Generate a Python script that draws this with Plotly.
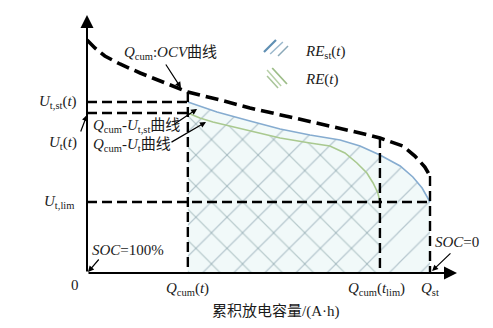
import numpy as np
import plotly.graph_objects as go

# ---- data (schematic units: Q normalised to Q_st = 1, voltage arbitrary) ----
ocv_q = [0, 0.023, 0.052, 0.096, 0.155, 0.213, 0.271, 0.294, 0.388, 0.475, 0.592,
         0.738, 0.796, 0.854, 0.921, 0.956, 0.985, 1.0]
ocv_u = [2.33, 2.25, 2.17, 2.09, 2.00, 1.92, 1.84, 1.81, 1.73, 1.65, 1.56,
         1.45, 1.40, 1.35, 1.27, 1.17, 1.06, 0.97]

ust_q = [0.294, 0.329, 0.379, 0.475, 0.563, 0.650, 0.738, 0.796, 0.854, 0.913, 0.950, 0.977, 1.0]
ust_u = [1.71, 1.67, 1.61, 1.52, 1.44, 1.38, 1.33, 1.27, 1.18, 1.07, 0.96, 0.85, 0.71]

ut_q = [0.294, 0.329, 0.367, 0.475, 0.563, 0.650, 0.708, 0.752, 0.787, 0.816, 0.834, 0.848, 0.854]
ut_u = [1.60, 1.55, 1.51, 1.42, 1.35, 1.30, 1.27, 1.20, 1.10, 1.00, 0.90, 0.80, 0.71]

q_cum_t = 0.294
q_cum_tlim = 0.854
q_st = 1.0
u_st = 1.71
u_t = 1.60
u_lim = 0.71

X_MAX = 1.0787
Y_MAX = 2.58

FONT = "Liberation Serif, Noto Sans CJK SC, serif"
TXT = "#1a1a1a"

fig = go.Figure()

# RE_st(t) region
fig.add_trace(go.Scatter(
    x=ust_q, y=ust_u, mode="lines", fill="tozeroy",
    line=dict(color="#86acd0", width=1.6),
    fillcolor="rgba(0,0,0,0)",
    fillpattern=dict(shape="/", size=22, solidity=0.055,
                     fgcolor="#7b96a4", bgcolor="#f1f9f9"),
    cliponaxis=False, showlegend=False, hoverinfo="skip"))

# RE(t) region
fig.add_trace(go.Scatter(
    x=ut_q, y=ut_u, mode="lines", fill="tozeroy",
    line=dict(color="#a9c98f", width=1.6),
    fillcolor="rgba(0,0,0,0)",
    fillpattern=dict(shape="\\", size=22, solidity=0.055,
                     fgcolor="#829ea2", bgcolor="rgba(0,0,0,0)"),
    cliponaxis=False, showlegend=False, hoverinfo="skip"))

thin = dict(color="black", width=2.4, dash="10px,5px")

# horizontal reference lines
fig.add_trace(go.Scatter(x=[0, q_cum_t], y=[u_st, u_st], mode="lines", line=thin,
                         cliponaxis=False, showlegend=False, hoverinfo="skip"))
fig.add_trace(go.Scatter(x=[0, q_cum_t], y=[u_t, u_t], mode="lines", line=thin,
                         cliponaxis=False, showlegend=False, hoverinfo="skip"))
fig.add_trace(go.Scatter(x=[0, q_st], y=[u_lim, u_lim], mode="lines", line=thin,
                         cliponaxis=False, showlegend=False, hoverinfo="skip"))

# vertical reference lines up to the OCV curve
for q in [q_cum_t, q_cum_tlim, q_st]:
    top = float(np.interp(q, ocv_q, ocv_u))
    fig.add_trace(go.Scatter(x=[q, q], y=[top, 0], mode="lines", line=thin,
                             cliponaxis=False, showlegend=False, hoverinfo="skip"))

# OCV curve
fig.add_trace(go.Scatter(x=ocv_q, y=ocv_u, mode="lines",
                         line=dict(color="black", width=3.6, dash="13px,6px"),
                         cliponaxis=False, showlegend=False, hoverinfo="skip"))

ann = []

def arrow(x, y, ax, ay, width=1.2, head=2, size=1.0):
    ann.append(dict(x=x, y=y, ax=ax, ay=ay, xref="x", yref="y", axref="x", ayref="y",
                    text="", showarrow=True, arrowhead=head, arrowsize=size,
                    arrowwidth=width, arrowcolor="black", standoff=0, startstandoff=0))

def label(text, x, y, xanchor="left", yanchor="middle", xshift=0, yshift=0, size=15, angle=0):
    ann.append(dict(x=x, y=y, xref="x", yref="y", text=text, showarrow=False,
                    xanchor=xanchor, yanchor=yanchor, xshift=xshift, yshift=yshift,
                    textangle=angle, font=dict(family=FONT, size=size, color=TXT)))

# axes with arrowheads
arrow(0, Y_MAX, 0, 0, width=2, head=2, size=1.3)
arrow(X_MAX, 0, 0, 0, width=2, head=2, size=1.3)

# pointer arrows
arrow(0.274, 1.85, 0.227, 2.10)
arrow(0.0, 1.58, -0.020, 1.40)
arrow(0.321, 1.64, 0.251, 1.48)
arrow(0.347, 1.51, 0.242, 1.30)
arrow(0.003, 0.01, 0.038, 0.15)
arrow(1.006, 0.02, 1.064, 0.21)

# text labels
label("<i>Q</i><sub>cum</sub>:<i>OCV</i>曲线", 0.102, 2.20)
label("<i>RE</i><sub>st</sub>(<i>t</i>)", 0.630, 2.21)
label("<i>RE</i>(<i>t</i>)", 0.630, 1.94)
label("<i>Q</i><sub>cum</sub>-<i>U</i><sub>t,st</sub>曲线", 0.012, 1.47)
label("<i>Q</i><sub>cum</sub>-<i>U</i><sub>t</sub>曲线", 0.012, 1.28)
label("<i>U</i><sub>t,st</sub>(<i>t</i>)", 0, u_st, xanchor="right", xshift=-8)
label("<i>U</i><sub>t</sub>(<i>t</i>)", 0, 1.30, xanchor="right", xshift=-8)
label("<i>U</i><sub>t,lim</sub>", 0, u_lim, xanchor="right", xshift=-11)
label("<i>SOC</i>=100%", 0.009, 0.23)
label("<i>SOC</i>=0", 1.009, 0.31)
label("0", 0, 0, xanchor="center", yanchor="top", xshift=-12, yshift=-2)
label("<i>Q</i><sub>cum</sub>(<i>t</i>)", q_cum_t, 0, xanchor="center", yanchor="top", yshift=-5)
label("<i>Q</i><sub>cum</sub>(<i>t</i><sub>lim</sub>)", q_cum_tlim, 0, xanchor="center", yanchor="top", xshift=-3, yshift=-5)
label("<i>Q</i><sub>st</sub>", q_st, 0, xanchor="center", yanchor="top", yshift=-5)
label("累积放电容量/(A·h)", 0.552, 0, xanchor="center", yanchor="top", yshift=-28)
label("电压/V", -0.158, 1.15, xanchor="center", angle=-90)

# legend icons (short hatch strokes)
shapes = []
def stroke(x0, y0, x1, y1, color, w):
    shapes.append(dict(type="line", xref="x", yref="y", x0=x0, y0=y0, x1=x1, y1=y1,
                       line=dict(color=color, width=w)))

stroke(0.516, 2.21, 0.551, 2.33, "#5f8fb3", 2.2)
stroke(0.534, 2.19, 0.571, 2.31, "#9bb8cc", 1.5)
stroke(0.557, 2.17, 0.586, 2.27, "#8aa8b8", 1.5)
stroke(0.525, 2.03, 0.566, 1.87, "#b8d0a8", 1.5)
stroke(0.540, 2.05, 0.583, 1.89, "#9dbd88", 1.8)
stroke(0.525, 1.97, 0.557, 1.85, "#a8c498", 1.5)

fig.update_layout(
    width=493, height=328,
    margin=dict(l=87, r=36, t=15, b=55),
    paper_bgcolor="white", plot_bgcolor="white",
    xaxis=dict(range=[0, X_MAX], visible=False),
    yaxis=dict(range=[0, Y_MAX], visible=False),
    annotations=ann, shapes=shapes,
    showlegend=False,
)

fig.write_html("out.html")
